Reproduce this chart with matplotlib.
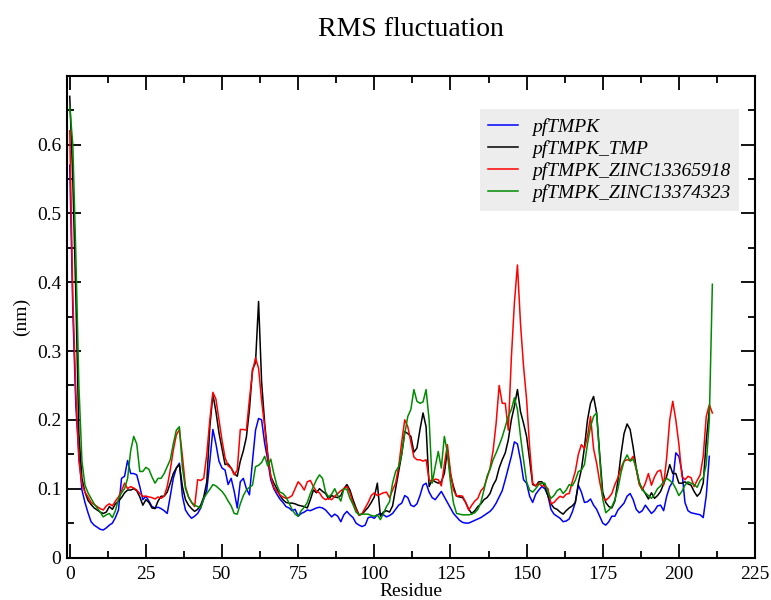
import numpy as np
import matplotlib
matplotlib.use("Agg")
import matplotlib.pyplot as plt
from matplotlib.ticker import MultipleLocator, FuncFormatter

plt.rcParams['font.family'] = ['Liberation Serif', 'DejaVu Serif']

residues = list(range(0, 212))

pfTMPK = [
    0.57, 0.36, 0.22, 0.15, 0.098, 0.08, 0.065, 0.052, 0.047, 0.044,
    0.041, 0.040, 0.043, 0.047, 0.050, 0.058, 0.069, 0.115, 0.118, 0.141,
    0.122, 0.122, 0.120, 0.103, 0.084, 0.089, 0.082, 0.074, 0.072, 0.073,
    0.071, 0.068, 0.064, 0.089, 0.115, 0.130, 0.137, 0.089, 0.069, 0.062,
    0.057, 0.060, 0.064, 0.072, 0.085, 0.098, 0.140, 0.186, 0.165, 0.140,
    0.130, 0.127, 0.106, 0.115, 0.096, 0.072, 0.110, 0.115, 0.100, 0.091,
    0.140, 0.185, 0.202, 0.200, 0.166, 0.142, 0.113, 0.100, 0.092, 0.085,
    0.080, 0.074, 0.072, 0.068, 0.070, 0.060, 0.064, 0.066, 0.069, 0.068,
    0.070, 0.072, 0.073, 0.072, 0.069, 0.064, 0.059, 0.063, 0.060, 0.052,
    0.062, 0.067, 0.062, 0.058, 0.050, 0.047, 0.045, 0.047, 0.058, 0.059,
    0.057, 0.062, 0.064, 0.062, 0.059, 0.061, 0.064, 0.070, 0.076, 0.079,
    0.090, 0.087, 0.076, 0.074, 0.078, 0.090, 0.105, 0.108, 0.095, 0.087,
    0.084, 0.090, 0.096, 0.088, 0.080, 0.072, 0.064, 0.059, 0.054, 0.051,
    0.050, 0.050, 0.052, 0.054, 0.056, 0.058, 0.061, 0.064, 0.067, 0.072,
    0.079, 0.088, 0.097, 0.113, 0.130, 0.147, 0.168, 0.165, 0.142, 0.113,
    0.108, 0.089, 0.080, 0.092, 0.098, 0.103, 0.100, 0.090, 0.070, 0.063,
    0.060, 0.057, 0.052, 0.053, 0.056, 0.066, 0.080, 0.105, 0.095, 0.080,
    0.081, 0.085, 0.076, 0.070, 0.060, 0.050, 0.047, 0.052, 0.060, 0.060,
    0.069, 0.074, 0.079, 0.089, 0.093, 0.084, 0.070, 0.065, 0.068, 0.076,
    0.070, 0.064, 0.068, 0.075, 0.076, 0.068, 0.089, 0.103, 0.110, 0.152,
    0.147, 0.125, 0.080, 0.068, 0.065, 0.064, 0.063, 0.062, 0.058, 0.090,
    0.147, np.nan,
]

pfTMPK_TMP = [
    0.67, 0.55, 0.38, 0.18, 0.115, 0.095, 0.083, 0.077, 0.072, 0.069,
    0.066, 0.064, 0.066, 0.074, 0.070, 0.078, 0.082, 0.087, 0.094, 0.098,
    0.098, 0.100, 0.097, 0.088, 0.076, 0.084, 0.080, 0.072, 0.071, 0.082,
    0.089, 0.089, 0.095, 0.108, 0.122, 0.130, 0.135, 0.103, 0.084, 0.076,
    0.071, 0.067, 0.070, 0.076, 0.088, 0.110, 0.190, 0.237, 0.212, 0.181,
    0.158, 0.135, 0.136, 0.130, 0.122, 0.118, 0.140, 0.155, 0.175, 0.215,
    0.273, 0.283, 0.372, 0.255, 0.195, 0.150, 0.118, 0.108, 0.100, 0.090,
    0.084, 0.080, 0.079, 0.079, 0.078, 0.076, 0.075, 0.074, 0.072, 0.084,
    0.098, 0.094, 0.100, 0.096, 0.093, 0.085, 0.090, 0.088, 0.087, 0.090,
    0.100, 0.106, 0.098, 0.084, 0.072, 0.062, 0.063, 0.068, 0.073, 0.080,
    0.088, 0.108, 0.060, 0.066, 0.068, 0.066, 0.075, 0.100, 0.125, 0.150,
    0.183, 0.180, 0.176, 0.153, 0.159, 0.186, 0.210, 0.190, 0.103, 0.113,
    0.110, 0.108, 0.110, 0.122, 0.156, 0.120, 0.103, 0.089, 0.088, 0.087,
    0.080, 0.070, 0.064, 0.068, 0.074, 0.078, 0.084, 0.087, 0.093, 0.105,
    0.113, 0.130, 0.142, 0.152, 0.171, 0.200, 0.220, 0.244, 0.212, 0.195,
    0.176, 0.142, 0.106, 0.104, 0.110, 0.110, 0.104, 0.090, 0.078, 0.072,
    0.070, 0.066, 0.063, 0.068, 0.072, 0.075, 0.080, 0.108, 0.128, 0.160,
    0.200, 0.224, 0.234, 0.210, 0.150, 0.095, 0.080, 0.074, 0.072, 0.082,
    0.112, 0.150, 0.180, 0.194, 0.186, 0.160, 0.130, 0.108, 0.100, 0.093,
    0.085, 0.094, 0.086, 0.090, 0.096, 0.107, 0.118, 0.135, 0.122, 0.122,
    0.108, 0.108, 0.110, 0.107, 0.105, 0.096, 0.089, 0.094, 0.108, 0.170,
    0.215, np.nan,
]

pfTMPK_ZINC13365918 = [
    0.62, 0.38, 0.24, 0.14, 0.107, 0.095, 0.088, 0.080, 0.077, 0.074,
    0.071, 0.069, 0.075, 0.078, 0.075, 0.082, 0.088, 0.097, 0.108, 0.100,
    0.103, 0.101, 0.098, 0.093, 0.089, 0.089, 0.088, 0.087, 0.085, 0.088,
    0.086, 0.089, 0.103, 0.127, 0.156, 0.178, 0.186, 0.147, 0.103, 0.088,
    0.080, 0.074, 0.113, 0.112, 0.115, 0.150, 0.200, 0.240, 0.230, 0.200,
    0.170, 0.145, 0.133, 0.130, 0.120, 0.127, 0.186, 0.186, 0.185, 0.230,
    0.270, 0.290, 0.275, 0.228, 0.190, 0.147, 0.118, 0.102, 0.096, 0.091,
    0.088, 0.086, 0.087, 0.090, 0.100, 0.110, 0.105, 0.098, 0.110, 0.112,
    0.103, 0.096, 0.094, 0.087, 0.084, 0.086, 0.084, 0.089, 0.093, 0.097,
    0.100, 0.103, 0.094, 0.079, 0.070, 0.061, 0.064, 0.072, 0.080, 0.090,
    0.094, 0.090, 0.092, 0.094, 0.095, 0.087, 0.098, 0.108, 0.132, 0.168,
    0.200, 0.190, 0.168, 0.146, 0.142, 0.142, 0.140, 0.142, 0.113, 0.110,
    0.114, 0.113, 0.104, 0.135, 0.164, 0.125, 0.098, 0.089, 0.090, 0.089,
    0.080, 0.069, 0.076, 0.082, 0.086, 0.097, 0.102, 0.115, 0.130, 0.155,
    0.195, 0.250, 0.224, 0.224, 0.185, 0.290, 0.370, 0.425, 0.340, 0.278,
    0.230, 0.160, 0.108, 0.104, 0.108, 0.104, 0.104, 0.100, 0.078, 0.080,
    0.085, 0.089, 0.087, 0.092, 0.093, 0.110, 0.125, 0.150, 0.164, 0.158,
    0.176, 0.205, 0.158, 0.137, 0.110, 0.088, 0.083, 0.087, 0.093, 0.106,
    0.116, 0.130, 0.140, 0.142, 0.141, 0.147, 0.128, 0.106, 0.098, 0.108,
    0.122, 0.105, 0.117, 0.125, 0.127, 0.105, 0.145, 0.200, 0.227, 0.200,
    0.165, 0.118, 0.113, 0.118, 0.116, 0.103, 0.112, 0.120, 0.147, 0.205,
    0.222, 0.210,
]

pfTMPK_ZINC13374323 = [
    0.655, 0.60, 0.44, 0.25, 0.14, 0.105, 0.094, 0.086, 0.078, 0.072,
    0.066, 0.059, 0.062, 0.064, 0.058, 0.068, 0.085, 0.094, 0.100, 0.115,
    0.155, 0.176, 0.165, 0.125, 0.125, 0.131, 0.128, 0.117, 0.108, 0.115,
    0.115, 0.122, 0.132, 0.142, 0.165, 0.185, 0.190, 0.130, 0.100, 0.088,
    0.080, 0.076, 0.074, 0.072, 0.086, 0.093, 0.099, 0.106, 0.104, 0.100,
    0.096, 0.090, 0.082, 0.075, 0.064, 0.063, 0.078, 0.090, 0.098, 0.102,
    0.105, 0.132, 0.134, 0.138, 0.147, 0.133, 0.143, 0.122, 0.105, 0.095,
    0.093, 0.088, 0.079, 0.070, 0.063, 0.060, 0.068, 0.073, 0.080, 0.093,
    0.103, 0.113, 0.120, 0.115, 0.095, 0.088, 0.092, 0.100, 0.090, 0.082,
    0.100, 0.099, 0.086, 0.077, 0.066, 0.062, 0.063, 0.063, 0.063, 0.061,
    0.060, 0.062, 0.055, 0.064, 0.074, 0.081, 0.108, 0.125, 0.132, 0.150,
    0.180, 0.205, 0.215, 0.244, 0.227, 0.224, 0.226, 0.244, 0.200, 0.108,
    0.132, 0.154, 0.130, 0.176, 0.152, 0.110, 0.079, 0.064, 0.063, 0.062,
    0.062, 0.062, 0.063, 0.065, 0.070, 0.080, 0.098, 0.118, 0.128, 0.142,
    0.152, 0.163, 0.175, 0.190, 0.205, 0.215, 0.232, 0.215, 0.176, 0.142,
    0.110, 0.098, 0.095, 0.100, 0.106, 0.108, 0.108, 0.095, 0.086, 0.090,
    0.097, 0.100, 0.093, 0.098, 0.106, 0.104, 0.112, 0.125, 0.127, 0.135,
    0.165, 0.190, 0.205, 0.210, 0.145, 0.085, 0.065, 0.069, 0.074, 0.084,
    0.100, 0.123, 0.140, 0.149, 0.140, 0.143, 0.130, 0.110, 0.098, 0.094,
    0.090, 0.086, 0.092, 0.100, 0.104, 0.110, 0.115, 0.112, 0.108, 0.100,
    0.090, 0.096, 0.105, 0.110, 0.108, 0.106, 0.102, 0.112, 0.116, 0.135,
    0.200, 0.397,
]

series_labels = ["pfTMPK", "pfTMPK_TMP", "pfTMPK_ZINC13365918", "pfTMPK_ZINC13374323"]
series_colors = ["#0000ff", "#000000", "#ff0000", "#008b00"]
x_ticks = [0, 25, 50, 75, 100, 125, 150, 175, 200, 225]
y_ticks = [0, 0.1, 0.2, 0.3, 0.4, 0.5, 0.6]

fig = plt.figure(figsize=(7.71, 6.0), dpi=100)
ax = fig.add_axes([66.7 / 771, 1 - 557.5 / 600, (755 - 66.7) / 771, (557.5 - 75.7) / 600])

for vals, lab, col in zip([pfTMPK, pfTMPK_TMP, pfTMPK_ZINC13365918, pfTMPK_ZINC13374323],
                          series_labels, series_colors):
    ax.plot(residues, vals, color=col, lw=1.1, label=lab)

ax.set_xlim(-1, 225)
ax.set_ylim(0, 0.7)
ax.set_xticks(x_ticks)
ax.set_yticks(y_ticks)
ax.xaxis.set_minor_locator(MultipleLocator(12.5))
ax.yaxis.set_minor_locator(MultipleLocator(0.05))
ax.yaxis.set_major_formatter(FuncFormatter(lambda v, p: "0" if abs(v) < 1e-9 else f"{v:.1f}"))

ax.tick_params(which='both', direction='in', top=True, right=True, width=1.3, labelsize=14)
ax.tick_params(which='major', length=10)
ax.tick_params(which='minor', length=5)
ax.tick_params(axis='x', pad=6)
ax.tick_params(axis='y', pad=4)
for s in ax.spines.values():
    s.set_linewidth(1.5)

fig.text(0.533, 1 - 29 / 600, "RMS fluctuation", ha='center', va='center', fontsize=20)
fig.text(0.533, 1 - 596 / 600, "Residue", ha='center', va='baseline', fontsize=14)
fig.text(21 / 771, 1 - 316.6 / 600, "(nm)", ha='center', va='center', rotation=90, fontsize=14)

leg = ax.legend(loc='upper left', bbox_to_anchor=(0.600, 0.931), frameon=True, fancybox=False,
                facecolor='#ededed', edgecolor='none', framealpha=1.0,
                prop={'style': 'italic', 'size': 14}, handlelength=1.5, handletextpad=0.75,
                labelspacing=0.22, borderpad=0.45, borderaxespad=0.0)

fig.savefig("out.png", dpi=100)
